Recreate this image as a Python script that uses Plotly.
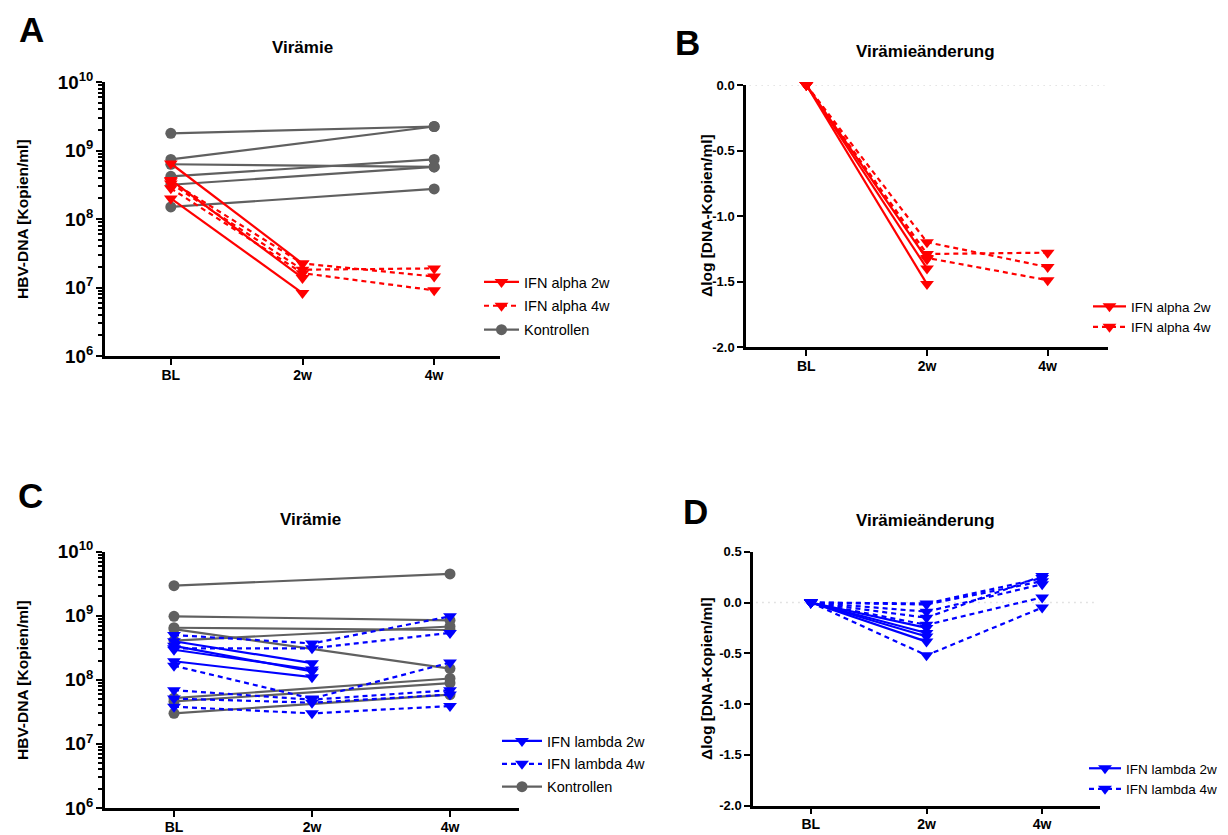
import plotly.graph_objects as go

# The page body has an 8 px margin, so the figure is drawn 8 px inside the window.
OFF = 8
W, H = 1228 - OFF, 835 - OFF
timepoints = ["BL", "2w", "4w"]

# ---------- Panel A: viraemia, IFN alpha ----------
a_alpha2w = [[6.46e8, 2.24e7], [3.72e8, 1.38e7], [2.0e8, 8.3e6]]
a_alpha4w = [[3.55e8, 2.24e7, 1.45e7], [3.3e8, 1.82e7, 1.9e7], [2.8e8, 1.62e7, 9.1e6]]
a_ctrl = [[1.78e9, 2.24e9], [7.4e8, 2.24e9], [6.3e8, 5.75e8],
          [4.2e8, 7.4e8], [3.16e8, 5.75e8], [1.5e8, 2.75e8]]

# ---------- Panel B: change in log viraemia, IFN alpha ----------
b_alpha2w = [[0, -1.33], [0, -1.40], [0, -1.52]]
b_alpha4w = [[0, -1.20, -1.39], [0, -1.29, -1.28], [0, -1.32, -1.49]]

# ---------- Panel C: viraemia, IFN lambda ----------
c_lambda2w = [[4.0e8, 1.82e8], [3.4e8, 1.35e8], [2.95e8, 1.45e8], [1.95e8, 1.1e8]]
c_lambda4w = [[5.0e8, 3.7e8, 9.8e8], [3.1e8, 3.1e8, 5.4e8], [1.66e8, 5.1e7, 1.86e8],
              [6.9e7, 4.9e7, 6.9e7], [5.1e7, 4.4e7, 5.9e7], [3.8e7, 3.0e7, 3.9e7]]
c_ctrl = [[2.95e9, 4.5e9], [9.8e8, 8.5e8], [6.5e8, 6.0e8], [6.2e8, 1.5e8],
          [4.1e8, 6.8e8], [5.2e7, 1.05e8], [4.6e7, 8.9e7], [3.0e7, 5.9e7]]

# ---------- Panel D: change in log viraemia, IFN lambda ----------
d_lambda2w = [[0, -0.25], [0, -0.30], [0, -0.335], [0, -0.385]]
d_lambda4w = [[0, -0.15, 0.26], [0, -0.01, 0.24], [0, -0.52, -0.05],
              [0, -0.09, 0.18], [0, -0.22, 0.05], [0, -0.02, 0.21]]

delta_ticks_b = [-2.0, -1.5, -1.0, -0.5, 0.0]
delta_ticks_d = [-2.0, -1.5, -1.0, -0.5, 0.0, 0.5]

x_two = ["BL", "2w"]
x_ctrl = ["BL", "4w"]

RED = "#FF0000"
BLUE = "#0000FF"
GREY = "#606060"
FONT = "Arial, Liberation Sans, sans-serif"
DASH = "5px,4px"

fig = go.Figure()


def add_group(rows, xs, name, color, dash, symbol, size, xa, ya, legend, rank):
    for i, ys in enumerate(rows):
        fig.add_trace(go.Scatter(
            x=xs, y=ys, mode="lines+markers", name=name,
            legendgroup=name + legend, showlegend=(i == 0), legend=legend,
            legendrank=rank,
            line=dict(color=color, width=2.2, dash=dash),
            marker=dict(symbol=symbol, size=size, color=color, line=dict(width=0)),
            xaxis=xa, yaxis=ya, cliponaxis=False))


add_group(a_ctrl, x_ctrl, "Kontrollen", GREY, "solid", "circle", 11, "x", "y", "legend", 3)
add_group(a_alpha4w, timepoints, "IFN alpha 4w", RED, DASH, "triangle-down", 12, "x", "y", "legend", 2)
add_group(a_alpha2w, x_two, "IFN alpha 2w", RED, "solid", "triangle-down", 12, "x", "y", "legend", 1)

add_group(b_alpha4w, timepoints, "IFN alpha 4w", RED, DASH, "triangle-down", 12, "x2", "y2", "legend2", 2)
add_group(b_alpha2w, x_two, "IFN alpha 2w", RED, "solid", "triangle-down", 12, "x2", "y2", "legend2", 1)

add_group(c_ctrl, x_ctrl, "Kontrollen", GREY, "solid", "circle", 11, "x3", "y3", "legend3", 3)
add_group(c_lambda4w, timepoints, "IFN lambda 4w", BLUE, DASH, "triangle-down", 12, "x3", "y3", "legend3", 2)
add_group(c_lambda2w, x_two, "IFN lambda 2w", BLUE, "solid", "triangle-down", 12, "x3", "y3", "legend3", 1)

add_group(d_lambda4w, timepoints, "IFN lambda 4w", BLUE, DASH, "triangle-down", 12, "x4", "y4", "legend4", 2)
add_group(d_lambda2w, x_two, "IFN lambda 2w", BLUE, "solid", "triangle-down", 12, "x4", "y4", "legend4", 1)


def px_x(p):
    return (p - OFF) / W


def px_y(p):
    return 1 - (p - OFF) / H


axis_common = dict(showline=True, linecolor="black", linewidth=2.5, ticks="outside",
                   ticklen=6, tickwidth=2, tickcolor="black", showgrid=False, zeroline=False,
                   automargin=False,
                   tickfont=dict(family=FONT, size=14, color="black", weight="bold"))

xcommon = dict(axis_common, type="category", categoryorder="array", categoryarray=timepoints,
               range=[-0.5, 2.5], ticklabelstandoff=-2)

ylog = dict(axis_common, type="log", range=[6, 10], tickmode="linear", tick0=0, dtick=1,
            exponentformat="power", showexponent="all",
            minor=dict(dtick="D1", ticks="outside", ticklen=4,
                       tickwidth=1.5, tickcolor="black", showgrid=False))
ylog["tickfont"] = dict(family=FONT, size=15, color="black", weight="bold")

ylin_font = dict(family=FONT, size=13, color="black", weight="bold")

legend_common = dict(xanchor="left", yanchor="top", bgcolor="rgba(0,0,0,0)",
                     traceorder="grouped")

fig.update_layout(
    width=W, height=H, margin=dict(l=0, r=0, t=0, b=0, pad=0, autoexpand=False),
    paper_bgcolor="white", plot_bgcolor="white", showlegend=True,
    xaxis=dict(xcommon, domain=[px_x(105), px_x(500)], anchor="y"),
    yaxis=dict(ylog, domain=[px_y(356), px_y(82)], anchor="x"),
    xaxis2=dict(xcommon, domain=[px_x(746), px_x(1108)], anchor="y2"),
    yaxis2=dict(axis_common, range=[-2, 0], tickmode="array", tickvals=delta_ticks_b,
                ticktext=["%.1f" % v for v in delta_ticks_b],
                tickfont=ylin_font, domain=[px_y(347), px_y(85)], anchor="x2"),
    xaxis3=dict(xcommon, domain=[px_x(105), px_x(519)], anchor="y3"),
    yaxis3=dict(ylog, domain=[px_y(808), px_y(551.7)], anchor="x3"),
    xaxis4=dict(xcommon, domain=[px_x(753), px_x(1100)], anchor="y4"),
    yaxis4=dict(axis_common, range=[-2, 0.5], tickmode="array", tickvals=delta_ticks_d,
                ticktext=["%.1f" % v for v in delta_ticks_d],
                tickfont=ylin_font, domain=[px_y(805.7), px_y(551.7)], anchor="x4"),
    legend=dict(legend_common, x=px_x(479), y=px_y(266), itemwidth=35,
                font=dict(family=FONT, size=14.5, color="black"), tracegroupgap=2),
    legend2=dict(legend_common, x=px_x(1088), y=px_y(291), itemwidth=33,
                 font=dict(family=FONT, size=13.5, color="black"), tracegroupgap=0),
    legend3=dict(legend_common, x=px_x(497), y=px_y(725), itemwidth=40,
                 font=dict(family=FONT, size=14.5, color="black"), tracegroupgap=1),
    legend4=dict(legend_common, x=px_x(1084), y=px_y(753), itemwidth=32,
                 font=dict(family=FONT, size=13.5, color="black"), tracegroupgap=0),
)

# dotted zero reference lines
for xr, yr in (("x2", "y2"), ("x4", "y4")):
    fig.add_shape(type="line", xref=xr + " domain", yref=yr, x0=0.01, x1=0.99, y0=0, y1=0,
                  line=dict(color="#C8C8C8", width=1.5, dash="1px,5px"), layer="below")

# panel letters (top-anchored)
letters = [
    dict(text="A", x=31, y=8),
    dict(text="B", x=688, y=21),
    dict(text="C", x=30, y=474),
    dict(text="D", x=695, y=490),
]
for a in letters:
    fig.add_annotation(text="<b>%s</b>" % a["text"], x=px_x(a["x"]), y=px_y(a["y"]),
                       xref="paper", yref="paper", showarrow=False, xanchor="center",
                       yanchor="top", font=dict(family=FONT, size=35, color="black"))

titles = [
    dict(text="Virämie", x=302, y=48),
    dict(text="Virämieänderung", x=925, y=52),
    dict(text="Virämie", x=310, y=519),
    dict(text="Virämieänderung", x=925, y=520),
]
for a in titles:
    fig.add_annotation(text="<b>%s</b>" % a["text"], x=px_x(a["x"]), y=px_y(a["y"]),
                       xref="paper", yref="paper", showarrow=False, xanchor="center",
                       yanchor="middle", font=dict(family=FONT, size=17, color="black"))

ytitles = [
    dict(text="HBV-DNA [Kopien/ml]", x=22, y=219),
    dict(text="Δlog [DNA-Kopien/ml]", x=706, y=216),
    dict(text="HBV-DNA [Kopien/ml]", x=22, y=680),
    dict(text="Δlog [DNA-Kopien/ml]", x=706, y=679),
]
for a in ytitles:
    fig.add_annotation(text="<b>%s</b>" % a["text"], x=px_x(a["x"]), y=px_y(a["y"]),
                       xref="paper", yref="paper", showarrow=False, textangle=-90,
                       xanchor="center", yanchor="middle",
                       font=dict(family=FONT, size=15.5, color="black"))

fig.write_html("out.html")
